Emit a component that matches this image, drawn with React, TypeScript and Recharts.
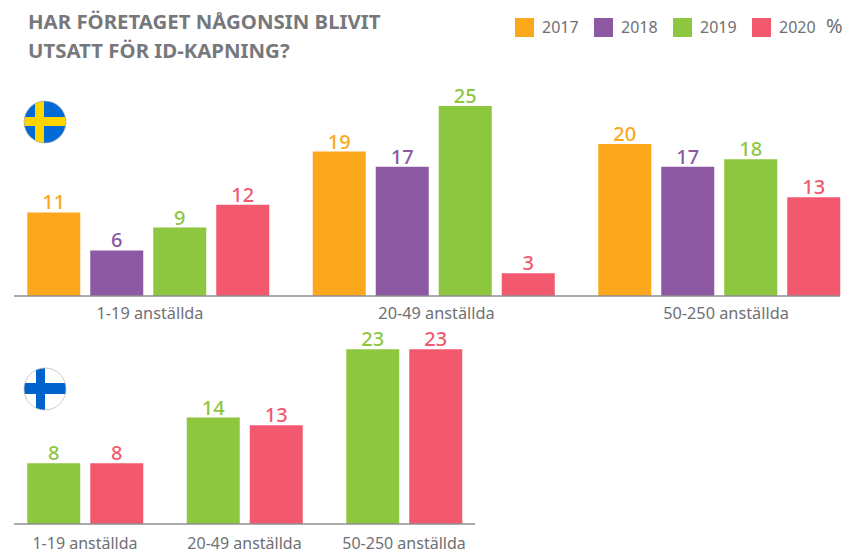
import React from "react";
import { BarChart, Bar, XAxis, YAxis, LabelList } from "recharts";

const groupsSweden = ["1-19 anställda", "20-49 anställda", "50-250 anställda"];
const sweden2017 = [11, 19, 20];
const sweden2018 = [6, 17, 17];
const sweden2019 = [9, 25, 18];
const sweden2020 = [12, 3, 13];

const groupsFinland = ["1-19 anställda", "20-49 anställda", "50-250 anställda"];
const finland2019 = [8, 14, 23];
const finland2020 = [8, 13, 23];

const years = ["2017", "2018", "2019", "2020"];
const colors = ["#FBA81C", "#8D59A3", "#8DC63F", "#F2596F"];
const titleLines = ["HAR FÖRETAGET NÅGONSIN BLIVIT", "UTSATT FÖR ID-KAPNING?"];

const swedenRows = groupsSweden.map((group, i) => ({
  group,
  y2017: sweden2017[i],
  y2018: sweden2018[i],
  y2019: sweden2019[i],
  y2020: sweden2020[i],
}));
const finlandRows = groupsFinland.map((group, i) => ({
  group,
  y2019: finland2019[i],
  y2020: finland2020[i],
}));

const FONT = "'Noto Sans', sans-serif";
const GREY = "#6F7074";

function series(key: string, color: string) {
  return (
    <Bar key={key} dataKey={key} fill={color} barSize={53} isAnimationActive={false}>
      <LabelList
        dataKey={key}
        position="top"
        offset={3}
        fill={color}
        style={{ fontFamily: FONT, fontSize: 20, fontWeight: 500 }}
      />
    </Bar>
  );
}

const tick = { fontFamily: FONT, fontSize: 16, fill: GREY };

function swedenTick(props: any) {
  const shift = [2, 3, 7][props.index] ?? 0;
  return (
    <text x={props.x + shift} y={props.y} dy="0.71em" textAnchor="middle" fontFamily={FONT} fontSize={16.3} fill={GREY}>
      {props.payload.value}
    </text>
  );
}

function LegendRow() {
  return (
    <div style={{ position: "absolute", left: 515, top: 16, fontFamily: FONT, fontSize: 16, color: GREY }}>
      {years.map((y, i) => (
        <div key={y} style={{ position: "absolute", left: [0, 79, 158, 237][i], top: 0, display: "flex", alignItems: "center" }}>
          <span style={{ display: "inline-block", width: 19, height: 19, background: colors[i], marginRight: 8 }} />
          <span>{y}</span>
        </div>
      ))}
      <span style={{ position: "absolute", left: 311, top: -4, fontSize: 20 }}>%</span>
    </div>
  );
}

function Sweden() {
  return (
    <svg width={44} height={44} style={{ position: "absolute", left: 23, top: 100 }}>
      <defs>
        <clipPath id="se"><circle cx={22} cy={22} r={21} /></clipPath>
      </defs>
      <g clipPath="url(#se)">
        <rect width={44} height={44} fill="#006BD6" />
        <rect x={12} width={9} height={44} fill="#FFD500" />
        <rect y={17} width={44} height={9} fill="#FFD500" />
      </g>
      <circle cx={22} cy={22} r={21} fill="none" stroke="#B5B5B5" strokeWidth={0.7} />
    </svg>
  );
}

function Finland() {
  return (
    <svg width={44} height={44} style={{ position: "absolute", left: 23, top: 367 }}>
      <defs>
        <clipPath id="fi"><circle cx={22} cy={22} r={21} /></clipPath>
      </defs>
      <g clipPath="url(#fi)">
        <rect width={44} height={44} fill="#FFFFFF" />
        <rect x={13} width={9} height={44} fill="#0063CC" />
        <rect y={16} width={44} height={11} fill="#0063CC" />
      </g>
      <circle cx={22} cy={22} r={21} fill="none" stroke="#B5B5B5" strokeWidth={0.7} />
    </svg>
  );
}

export default function App() {
  return (
    <div style={{ position: "absolute", left: 0, top: 0, width: 845, height: 553, overflow: "hidden", background: "#fff" }}>
      <div style={{ position: "absolute", left: 0, top: 0 }}>
        <BarChart
          width={845}
          height={340}
          data={swedenRows}
          barGap={10}
          margin={{ top: 68, right: 5, bottom: 0, left: 14 }}
        >
          <XAxis
            dataKey="group"
            height={44}
            padding={{ left: -8.75, right: -21.75 }}
            interval={0}
            tickLine={false}
            tickMargin={5}
            tick={swedenTick}
            axisLine={{ stroke: "#8E8F92", strokeWidth: 1.5 }}
          />
          <YAxis hide domain={[0, 30]} />
          {["y2017", "y2018", "y2019", "y2020"].map((k, i) => series(k, colors[i]))}
        </BarChart>
      </div>
      <div style={{ position: "absolute", left: 0, top: 320 }}>
        <BarChart
          width={845}
          height={233}
          data={finlandRows}
          barGap={10}
          margin={{ top: 14, right: 370, bottom: 0, left: 14 }}
        >
          <XAxis
            dataKey="group"
            height={29}
            padding={{ left: -8.75, right: -8.75 }}
            interval={0}
            tickLine={false}
            tickMargin={8}
            tick={tick}
            axisLine={{ stroke: "#8E8F92", strokeWidth: 1.5 }}
          />
          <YAxis hide domain={[0, 25]} />
          {["y2019", "y2020"].map((k) => series(k, colors[years.indexOf(k.slice(1))]))}
        </BarChart>
      </div>
      <LegendRow />
      <div style={{ position: "absolute", left: 28, top: 7, fontFamily: FONT, fontWeight: 700, fontSize: 20.4, lineHeight: "29px", color: "#77787B", whiteSpace: "nowrap" }}>
        {titleLines.map((l) => (
          <div key={l}>{l}</div>
        ))}
      </div>
      <Sweden />
      <Finland />
    </div>
  );
}
